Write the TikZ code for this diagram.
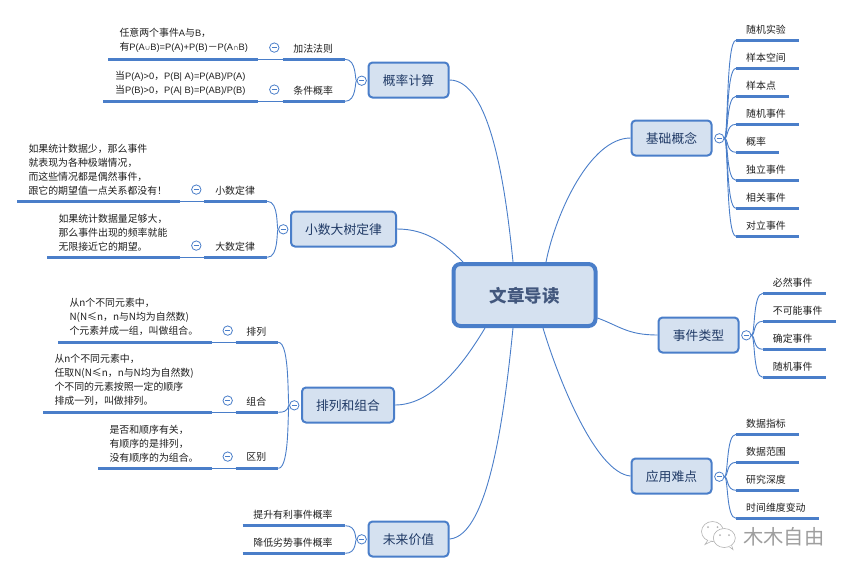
\documentclass[tikz,border=0pt]{standalone}
\usepackage{fontspec}
\setmainfont{Noto Sans CJK SC}
\newfontfamily\latinpart{Liberation Sans}
\newcommand{\Lt}[1]{{\latinpart\fontsize{9.3}{14}\selectfont #1}}
\newcommand{\Sm}[1]{{\fontsize{5.5}{14}\selectfont #1}}
\definecolor{mapblue}{HTML}{4A7EC9}
\definecolor{mapfill}{HTML}{D5E1F0}
\definecolor{mapnavy}{HTML}{203A66}
\definecolor{leafink}{HTML}{1E1E1E}
\tikzset{
  mainbox/.style={draw=mapblue,fill=mapfill,line width=2pt,rounded corners=4pt,inner sep=0pt,minimum height=35pt,text=mapnavy,text height=13pt,text depth=1.2pt,font=\fontsize{12.8}{15}\selectfont},
  rootbox/.style={draw=mapblue,fill=mapfill,line width=4pt,rounded corners=7pt,inner sep=0pt,minimum width=142pt,minimum height=62pt,text=mapnavy!85!white,text height=17pt,text depth=1.7pt,font=\fontsize{17.5}{20}\selectfont\bfseries},
  link/.style={draw=mapblue,line width=0.9pt},
  under/.style={draw=mapblue,line width=2.6pt},
  joinline/.style={draw=mapblue,line width=0.7pt},
  toggle/.style={circle,draw=mapblue,fill=white,line width=0.8pt,minimum size=9.4pt,inner sep=0pt,path picture={\draw[mapblue,line width=0.6pt] (-2.6pt,0pt)--(2.6pt,0pt);}},
  leaflabel/.style={inner sep=0pt,text=leafink,font=\fontsize{9.9}{12}\selectfont},
  detail/.style={inner sep=0pt,text=leafink,align=left,font=\fontsize{9.9}{14}\selectfont},
  wmicon/.style={draw=black!30,line width=0.6pt,fill=white},
}
% right-hand leaf: name, hub, x start, x end, y, text
\newcommand{\leafR}[6]{%
  \coordinate (#1s) at (#3,#5);
  \coordinate (#1e) at (#4,#5);
  \node[leaflabel,anchor=west] (#1) at (#3+10,#5-11) {#6};
  \draw[under] (#1s)--(#1e);
  \draw[link] (#2.east) .. controls +(4,0) and +(-10,0) .. (#1s);
}
% left-hand leaf with toggle: name, hub, x a, x b, x c, x d, y, text
\newcommand{\leafL}[8]{%
  \coordinate (#1a) at (#3,#7);
  \coordinate (#1b) at (#4,#7);
  \coordinate (#1c) at (#5,#7);
  \coordinate (#1d) at (#6,#7);
  \node[leaflabel] (#1) at ({(#5+#6)/2-0.7},#7-11) {#8};
  \node[toggle] (#1t) at (#4+16,#7-11.7) {};
  \draw[under] (#1a)--(#1b);
  \draw[joinline] (#1b)--(#1c);
  \draw[under] (#1c)--(#1d);
  \draw[link] (#2.west) .. controls +(-2,0) and +(12,0) .. (#1d);
}
\begin{document}
\begin{tikzpicture}[x=1pt,y=-1pt]
\useasboundingbox (0,0) rectangle (853,574);
% root and main topics
\node[rootbox] (root) at (524.5,295) {文章导读};
\node[mainbox,minimum width=80pt] (prob) at (408.5,80) {概率计算};
\node[mainbox,minimum width=105pt] (law) at (343.5,229) {小数大树定律};
\node[mainbox,minimum width=92pt] (perm) at (348,405) {排列和组合};
\node[mainbox,minimum width=80pt] (future) at (408.5,539) {未来价值};
\node[mainbox,minimum width=80pt] (basic) at (671.5,138) {基础概念};
\node[mainbox,minimum width=80pt] (kinds) at (698.5,335) {事件类型};
\node[mainbox,minimum width=80pt] (hard) at (671.5,476) {应用难点};
% links root - topics
\draw[link] (prob.east) .. controls +(40,0) and +(-8,-80) .. ([xshift=-11.5pt]root.north);
\draw[link] (law.east) .. controls +(30,0) and +(-18,-18) .. ([xshift=-61.5pt]root.north);
\draw[link] (basic.west) .. controls +(-40,0) and +(10,-50) .. ([xshift=21.5pt]root.north);
\draw[link] (perm.east) .. controls +(40,0) and +(-18,30) .. ([xshift=-39.5pt]root.south);
\draw[link] (future.east) .. controls +(40,-3) and +(-8,80) .. ([xshift=-11.5pt]root.south);
\draw[link] (kinds.west) .. controls +(-30,0) and +(22,8) .. ([yshift=-23pt]root.east);
\draw[link] (hard.west) .. controls +(-35,-3) and +(15,50) .. ([xshift=18.5pt]root.south);
% hubs
\node[toggle] (hprob) at (361.7,80.7) {};
\node[toggle] (hlaw) at (283.3,229.3) {};
\node[toggle] (hperm) at (294.3,405.3) {};
\node[toggle] (hfuture) at (361.7,539.3) {};
\node[toggle] (hbasic) at (719.3,138.3) {};
\node[toggle] (hkinds) at (746.3,335.3) {};
\node[toggle] (hhard) at (719.3,476.7) {};
% probability
\leafL{add}{hprob}{108.3}{258.3}{282.7}{345}{59.3}{加法法则}
\leafL{cond}{hprob}{103.3}{258.3}{282.7}{345}{101.3}{条件概率}
\node[detail,anchor=west] (addt) at (119.3,40.5) {任意两个事件\Lt{A}与\Lt{B}，\\有\Lt{P(A}\Sm{∪}\Lt{B)=P(A)+P(B)}－\Lt{P(A}\Sm{∩}\Lt{B)}};
\node[detail,anchor=west] (condt) at (115,83.7) {当\Lt{P(A)>0}，\Lt{P(B| A)=P(AB)/P(A)}\\当\Lt{P(B)>0}，\Lt{P(A| B)=P(AB)/P(B)}};
% law of numbers
\leafL{small}{hlaw}{17.3}{180.3}{204.3}{267.3}{201.3}{小数定律}
\leafL{large}{hlaw}{47.3}{180.3}{204.3}{267.3}{257.3}{大数定律}
\node[detail,anchor=west] (smallt) at (28.3,169.3) {如果统计数据少，那么事件\\就表现为各种极端情况，\\而这些情况都是偶然事件，\\跟它的期望值一点关系都没有！};
\node[detail,anchor=west] (larget) at (58.3,232.3) {如果统计数据量足够大，\\那么事件出现的频率就能\\无限接近它的期望。};
% permutation
\leafL{pa}{hperm}{58.3}{211.7}{235.7}{278.3}{342.3}{排列}
\leafL{pb}{hperm}{43.3}{211.7}{235.7}{278.3}{412.3}{组合}
\leafL{pc}{hperm}{98.3}{211.7}{235.7}{278.3}{468.3}{区别}
\node[detail,anchor=west] (pat) at (69.3,317.3) {从n个不同元素中，\\N(N≤n，n与N均为自然数)\\个元素并成一组，叫做组合。};
\node[detail,anchor=west] (pbt) at (54.3,380.3) {从n个不同元素中，\\任取N(N≤n，n与N均为自然数)\\个不同的元素按照一定的顺序\\排成一列，叫做排列。};
\node[detail,anchor=west] (pct) at (109.3,443.3) {是否和顺序有关，\\有顺序的是排列，\\没有顺序的为组合。};
% future value
\coordinate (fas) at (242.7,525.7);
\coordinate (fae) at (345.3,525.7);
\coordinate (fbs) at (242.7,553.3);
\coordinate (fbe) at (345.3,553.3);
\node[leaflabel] (fa) at (293,514.3) {提升有利事件概率};
\node[leaflabel] (fb) at (293,542.3) {降低劣势事件概率};
\draw[under] (fas)--(fae);
\draw[under] (fbs)--(fbe);
\draw[link] (hfuture.west) .. controls +(-2,0) and +(12,0) .. (fae);
\draw[link] (hfuture.west) .. controls +(-2,0) and +(12,0) .. (fbe);
% basics
\leafR{ba}{hbasic}{736}{798.7}{40.3}{随机实验}
\leafR{bb}{hbasic}{736}{798.7}{68.3}{样本空间}
\leafR{bc}{hbasic}{736}{788.7}{96.3}{样本点}
\leafR{bd}{hbasic}{736}{798.7}{124.3}{随机事件}
\leafR{be}{hbasic}{736}{778.7}{152.3}{概率}
\leafR{bf}{hbasic}{736}{798.7}{180.3}{独立事件}
\leafR{bg}{hbasic}{736}{798.7}{208.3}{相关事件}
\leafR{bh}{hbasic}{736}{798.7}{236.3}{对立事件}
% kinds
\leafR{ka}{hkinds}{762.7}{825.7}{293.3}{必然事件}
\leafR{kb}{hkinds}{762.7}{835.7}{321.3}{不可能事件}
\leafR{kc}{hkinds}{762.7}{825.7}{349.3}{确定事件}
\leafR{kd}{hkinds}{762.7}{825.7}{377.3}{随机事件}
% difficulties
\leafR{ha}{hhard}{736}{798.7}{434.3}{数据指标}
\leafR{hb}{hhard}{736}{798.7}{462.3}{数据范围}
\leafR{hc}{hhard}{736}{798.7}{490.3}{研究深度}
\leafR{hd}{hhard}{736}{818.7}{518.3}{时间维度变动}
% watermark
\draw[wmicon] (712.5,531.5) ellipse (11pt and 10pt);
\draw[wmicon] (708,540) -- (705,544.5) -- (712,541);
\draw[wmicon] (724.3,538) ellipse (11pt and 9.5pt);
\draw[wmicon] (729,546.5) -- (733,549.5) -- (731.5,545);
\fill[black!30] (708,527) circle (1pt) (717.5,527) circle (1pt) (720,535) circle (1pt) (729,535) circle (1pt);
\node[inner sep=0pt,anchor=west,text=black!38,font=\fontsize{20.3}{22}\selectfont] (wm) at (743,537) {木木自由};
\end{tikzpicture}
\end{document}
